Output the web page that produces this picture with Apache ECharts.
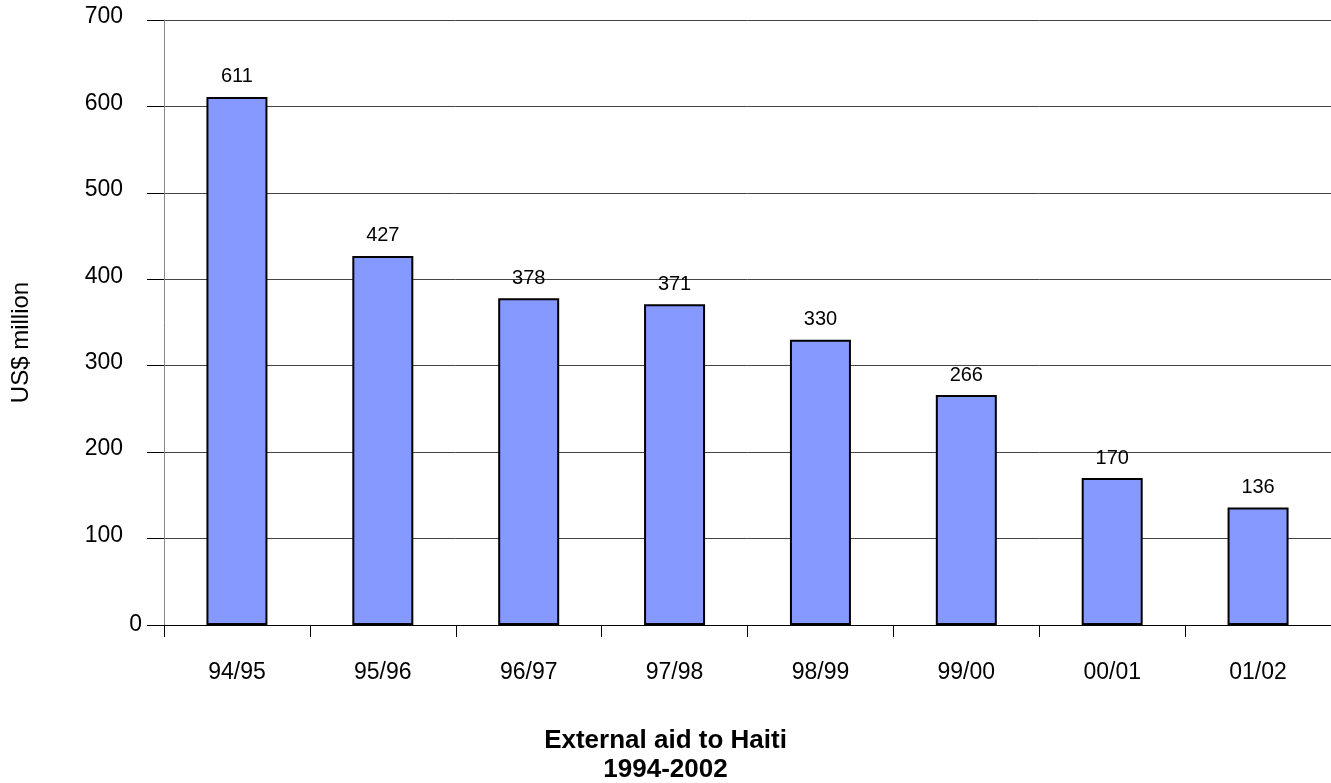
<!DOCTYPE html>
<html>
<head>
<meta charset="utf-8">
<script src="https://cdn.jsdelivr.net/npm/echarts@6/dist/echarts.min.js"></script>
<style>
  html, body { margin: 0; padding: 0; background: #fff; }
  #chart { width: 1331px; height: 783px; }
</style>
</head>
<body>
<div id="chart"></div>
<script>
  var years = ['94/95', '95/96', '96/97', '97/98', '98/99', '99/00', '00/01', '01/02'];
  var aid = [611, 427, 378, 371, 330, 266, 170, 136];

  var chart = echarts.init(document.getElementById('chart'));
  var font = 'Liberation Sans, Arial, sans-serif';

  chart.setOption({
    animation: false,
    title: {
      text: 'External aid to Haiti\n1994-2002',
      left: 'center',
      top: 721,
      textStyle: { fontFamily: font, fontSize: 26, fontWeight: 'bold', color: '#000', lineHeight: 29 }
    },
    grid: { left: 164, top: 20, right: 0, bottom: 158 },
    xAxis: {
      type: 'category',
      data: years,
      axisLine: { lineStyle: { color: '#000', width: 1 } },
      axisTick: { show: true, length: 12, lineStyle: { color: '#000' } },
      axisLabel: { fontFamily: font, fontSize: 23, color: '#000', margin: 36 }
    },
    yAxis: {
      type: 'value',
      min: 0,
      max: 700,
      interval: 100,
      name: 'US$ million',
      nameLocation: 'middle',
      nameGap: 131,
      nameRotate: 90,
      nameTextStyle: { fontFamily: font, fontSize: 24, color: '#000', padding: [0, 40, 0, 0] },
      axisLine: { show: true, lineStyle: { color: '#888', width: 1 } },
      axisTick: { show: true, length: 17, lineStyle: { color: '#000' } },
      axisLabel: {
        fontFamily: font,
        fontSize: 23,
        color: '#000',
        margin: 22,
        formatter: function (v) { return v === 0 ? '0' : '{n|' + v + '}'; },
        rich: { n: { fontFamily: font, fontSize: 23, color: '#000', padding: [0, 19, 6, 0] } }
      },
      splitLine: { lineStyle: { color: '#444', width: 1 } }
    },
    series: [{
      type: 'bar',
      data: aid,
      barWidth: 61,
      itemStyle: { color: '#8599FF', borderColor: '#000', borderWidth: 2 },
      label: {
        show: true,
        position: 'top',
        distance: 10,
        fontFamily: font,
        fontSize: 20,
        color: '#000'
      }
    }]
  });
</script>
</body>
</html>
